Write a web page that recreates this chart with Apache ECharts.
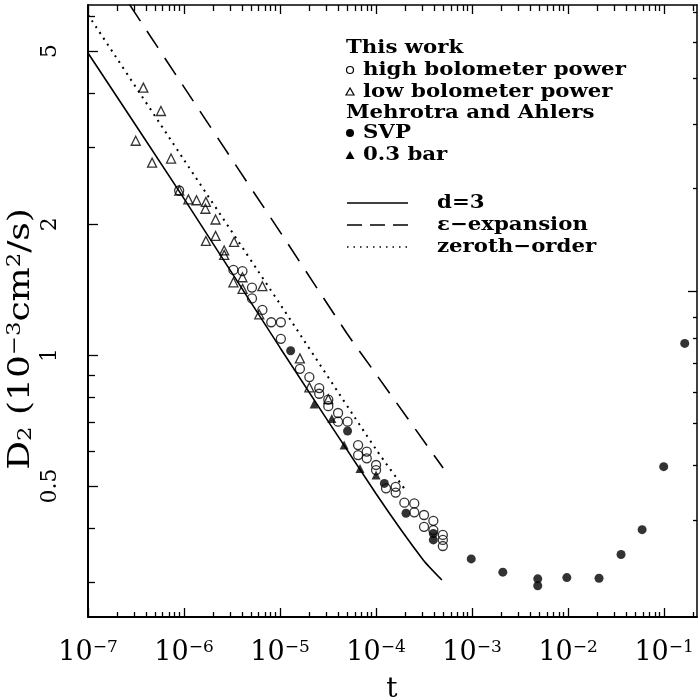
<!DOCTYPE html>
<html>
<head>
<meta charset="utf-8">
<script src="https://cdn.jsdelivr.net/npm/echarts@6/dist/echarts.min.js"></script>
<style>
  html, body { margin: 0; padding: 0; background: #fff; }
  #chart { width: 698px; height: 700px; }
</style>
</head>
<body>
<div id="chart"></div>
<script>
// Axis ranges
const X_MIN = 1e-7, X_MAX = 0.22;
const Y_MIN = 0.25, Y_MAX = 6.38;

// Tick values
const xMajorTicks = [1e-7, 1e-6, 1e-5, 1e-4, 1e-3, 1e-2, 1e-1];
const xMinorMultipliers = [2, 3, 4, 5, 6, 7, 8, 9];
const yLabelTicks = [0.5, 1, 2, 5];
const yMinorTicks = [0.3, 0.4, 0.6, 0.7, 0.8, 0.9, 3, 4, 6];
// Right-hand scale marks, expressed in D2 units of the left scale
const rightMajorTicks = [1.405];
const rightMinorTicks = [6.15, 5.25, 4.33, 3.40, 2.42, 1.225, 1.092, 0.957, 0.823, 0.697, 0.559, 0.418];

// This work, high bolometer power (t, D2 in 1e-3 cm^2/s)
const highPowerT = [8.9e-7, 3.27e-6, 4.06e-6, 5.1e-6, 5.1e-6, 6.55e-6, 8.1e-6, 1.02e-5, 1.02e-5, 1.61e-5,
  2.02e-5, 2.56e-5, 2.56e-5, 3.18e-5, 3.18e-5, 4.02e-5, 4.02e-5, 5.05e-5, 6.5e-5, 6.5e-5,
  8.0e-5, 8.0e-5, 1.0e-4, 1.0e-4, 1.27e-4, 1.6e-4, 1.6e-4, 1.97e-4, 2.5e-4, 2.5e-4,
  3.16e-4, 3.16e-4, 3.95e-4, 3.95e-4, 4.96e-4, 4.96e-4, 4.96e-4];
const highPowerD = [2.39, 1.57, 1.56, 1.43, 1.35, 1.27, 1.19, 1.19, 1.09, 0.93,
  0.89, 0.84, 0.815, 0.79, 0.763, 0.736, 0.703, 0.703, 0.621, 0.589,
  0.600, 0.579, 0.559, 0.544, 0.494, 0.498, 0.483, 0.458, 0.456, 0.435,
  0.429, 0.403, 0.416, 0.396, 0.386, 0.376, 0.364];

// This work, low bolometer power
const lowPowerT = [3.14e-7, 3.77e-7, 4.65e-7, 5.75e-7, 7.33e-7, 8.93e-7, 1.11e-6, 1.35e-6, 1.69e-6, 1.67e-6,
  2.13e-6, 1.69e-6, 2.13e-6, 3.32e-6, 2.62e-6, 2.62e-6, 4.06e-6, 3.27e-6, 4.07e-6, 6.55e-6,
  6.08e-6, 1.61e-5, 2.02e-5, 3.18e-5];
const lowPowerD = [3.11, 4.12, 2.77, 3.64, 2.83, 2.39, 2.28, 2.27, 2.25, 2.17,
  2.05, 1.83, 1.88, 1.82, 1.74, 1.70, 1.51, 1.47, 1.42, 1.44,
  1.24, 0.983, 0.843, 0.792];

// Mehrotra and Ahlers, SVP
const svpT = [1.29e-5, 5.05e-5, 1.22e-4, 2.05e-4, 3.95e-4, 3.95e-4, 9.8e-4, 2.09e-3, 4.83e-3, 4.83e-3,
  9.7e-3, 2.1e-2, 3.56e-2, 5.9e-2, 9.9e-2, 0.164];
const svpD = [1.023, 0.669, 0.507, 0.433, 0.389, 0.376, 0.340, 0.317, 0.306, 0.295,
  0.308, 0.307, 0.348, 0.397, 0.554, 1.064];

// Mehrotra and Ahlers, 0.3 bar
const bar03T = [2.26e-5, 3.46e-5, 4.65e-5, 6.8e-5, 1.0e-4];
const bar03D = [0.772, 0.715, 0.621, 0.549, 0.53];

// Theory curves
const d3T = [1e-7, 1e-6, 1e-5, 1e-4, 3.1e-4, 4.85e-4];
const d3D = [4.95, 2.29, 1.04, 0.48, 0.338, 0.304];
const epsT = [2.7e-7, 1e-6, 1e-5, 5e-5, 1e-4, 5e-4];
const epsD = [6.4, 4.13, 1.92, 1.12, 0.904, 0.55];
const zeroT = [1e-7, 1e-6, 1e-5, 1e-4, 2.1e-4];
const zeroD = [6.06, 2.81, 1.31, 0.607, 0.484];

const lg = Math.log10;
const zip = (a, b) => a.map((v, i) => [v, b[i]]);
const xMinorTicks = [];
xMajorTicks.forEach(p => xMinorMultipliers.forEach(m => xMinorTicks.push(p * m)));

const SERIF = "'DejaVu Serif', 'Liberation Serif', serif";
const INK = '#000';

// Linear axes in log10 space carry the tick marks and labels; the log axes carry the data.
function tickAxis(isX, position, ticks, len, width, withLine, labelCfg) {
  return {
    type: 'value',
    position: position,
    min: isX ? lg(X_MIN) : lg(Y_MIN),
    max: isX ? lg(X_MAX) : lg(Y_MAX),
    axisLine: { show: withLine, onZero: false, lineStyle: { color: INK, width: width } },
    axisTick: { show: true, inside: true, length: len, customValues: ticks.map(lg),
                lineStyle: { color: INK, width: 1.3 } },
    axisLabel: labelCfg || { show: false },
    splitLine: { show: false },
    minorTick: { show: false },
    silent: true
  };
}

const xLabelCfg = {
  show: true,
  customValues: xMajorTicks.map(lg),
  margin: 22,
  formatter: v => '{b|10}{s|\u2212' + (-Math.round(v)) + '}',
  rich: {
    b: { fontFamily: SERIF, fontSize: 27, color: INK },
    s: { fontFamily: SERIF, fontSize: 17, color: INK, verticalAlign: 'top' }
  }
};
const yLabelCfg = {
  show: true,
  customValues: yLabelTicks.map(lg),
  margin: 27,
  rotate: 90,
  formatter: v => String(Math.round(Math.pow(10, v) * 10) / 10),
  fontFamily: SERIF, fontSize: 22, color: INK
};

const chart = echarts.init(document.getElementById('chart'), null, { renderer: 'canvas' });

const option = {
  animation: false,
  backgroundColor: '#fff',
  grid: { left: 88, right: 1, top: 5, bottom: 83, containLabel: false },
  xAxis: [
    { type: 'log', logBase: 10, min: X_MIN, max: X_MAX, show: false },
    tickAxis(true, 'bottom', xMajorTicks, 9, 2, true, xLabelCfg),
    tickAxis(true, 'bottom', xMinorTicks, 5, 2, false),
    tickAxis(true, 'top', xMajorTicks, 9, 1.5, true),
    tickAxis(true, 'top', xMinorTicks, 6, 1.5, false)
  ],
  yAxis: [
    { type: 'log', logBase: 10, min: Y_MIN, max: Y_MAX, show: false },
    tickAxis(false, 'left', yLabelTicks, 10, 2, true, yLabelCfg),
    tickAxis(false, 'left', yMinorTicks, 7, 2, false),
    tickAxis(false, 'right', rightMajorTicks, 9, 1.5, true),
    tickAxis(false, 'right', rightMinorTicks, 4, 1.5, false)
  ],
  series: [
    { name: 'd=3', type: 'line', xAxisIndex: 0, yAxisIndex: 0, data: zip(d3T, d3D),
      showSymbol: false, smooth: 0.2, lineStyle: { color: INK, width: 1.6 }, z: 2 },
    { name: 'ε-expansion', type: 'line', xAxisIndex: 0, yAxisIndex: 0, data: zip(epsT, epsD),
      showSymbol: false, smooth: 0.2, lineStyle: { color: INK, width: 1.6, type: [20, 12] }, z: 2 },
    { name: 'zeroth-order', type: 'line', xAxisIndex: 0, yAxisIndex: 0, data: zip(zeroT, zeroD),
      showSymbol: false, smooth: 0.2, lineStyle: { color: INK, width: 2, type: [2, 5] }, z: 2 },
    { name: 'high bolometer power', type: 'scatter', xAxisIndex: 0, yAxisIndex: 0, data: zip(highPowerT, highPowerD),
      symbol: 'circle', symbolSize: 9,
      itemStyle: { color: 'rgba(0,0,0,0)', borderColor: INK, borderWidth: 1.3 }, z: 3 },
    { name: 'low bolometer power', type: 'scatter', xAxisIndex: 0, yAxisIndex: 0, data: zip(lowPowerT, lowPowerD),
      symbol: 'triangle', symbolSize: 9,
      itemStyle: { color: 'rgba(0,0,0,0)', borderColor: INK, borderWidth: 1.3 }, z: 3 },
    { name: 'SVP', type: 'scatter', xAxisIndex: 0, yAxisIndex: 0, data: zip(svpT, svpD),
      symbol: 'circle', symbolSize: 9, itemStyle: { color: INK }, z: 4 },
    { name: '0.3 bar', type: 'scatter', xAxisIndex: 0, yAxisIndex: 0, data: zip(bar03T, bar03D),
      symbol: 'triangle', symbolSize: 9, itemStyle: { color: INK }, z: 4 }
  ],
  graphic: []
};

// Key (drawn as text and small shapes)
const keyFont = 'bold 19px ' + SERIF;
const keyStretch = 1.12;
const keyX = 346, markX = 350, textX = 363, lineX0 = 347, lineX1 = 408, lineTextX = 437;
const key = [];
function keyText(text, x, y) {
  key.push({ type: 'text', x: x, y: y, z: 10, scaleX: keyStretch,
    style: { text: text, font: keyFont, fill: INK, verticalAlign: 'middle', align: 'left' } });
}
keyText('This work', keyX, 48);
key.push({ type: 'circle', z: 10, shape: { cx: markX, cy: 70, r: 3.5 }, style: { fill: 'none', stroke: INK, lineWidth: 1.2 } });
keyText('high bolometer power', textX, 70);
key.push({ type: 'polygon', z: 10, shape: { points: [[markX, 88], [markX - 4, 95], [markX + 4, 95]] }, style: { fill: 'none', stroke: INK, lineWidth: 1.2 } });
keyText('low bolometer power', textX, 92);
keyText('Mehrotra and Ahlers', keyX, 113);
key.push({ type: 'circle', z: 10, shape: { cx: markX, cy: 133, r: 4 }, style: { fill: INK } });
keyText('SVP', textX, 133);
key.push({ type: 'polygon', z: 10, shape: { points: [[markX, 151], [markX - 4.5, 159], [markX + 4.5, 159]] }, style: { fill: INK } });
keyText('0.3 bar', textX, 155);
key.push({ type: 'line', z: 10, shape: { x1: lineX0, y1: 203, x2: lineX1, y2: 203 }, style: { stroke: INK, lineWidth: 1.6 } });
keyText('d=3', lineTextX, 203);
key.push({ type: 'line', z: 10, shape: { x1: lineX0, y1: 225, x2: lineX1, y2: 225 }, style: { stroke: INK, lineWidth: 1.6, lineDash: [15, 8] } });
keyText('\u03b5\u2212expansion', lineTextX, 225);
key.push({ type: 'line', z: 10, shape: { x1: lineX0, y1: 247, x2: lineX1, y2: 247 }, style: { stroke: INK, lineWidth: 1.5, lineDash: [1.5, 5] } });
keyText('zeroth\u2212order', lineTextX, 247);

// Axis titles
key.push({ type: 'text', z: 10, x: 21, y: 339, rotation: Math.PI / 2, scaleX: 1.2,
  style: {
    text: '{n|D}{sub|2}{n| (10}{sup|\u22123}{n|cm}{sup|2}{n|/s)}',
    align: 'center', verticalAlign: 'middle',
    rich: {
      n: { fontFamily: SERIF, fontSize: 30, fill: INK },
      sub: { fontFamily: SERIF, fontSize: 19, fill: INK, verticalAlign: 'bottom' },
      sup: { fontFamily: SERIF, fontSize: 19, fill: INK, verticalAlign: 'top' }
    }
  } });
key.push({ type: 'text', z: 10, x: 392, y: 690,
  style: { text: 't', font: '28px ' + SERIF, fill: INK, align: 'center', verticalAlign: 'middle' } });

option.graphic = key;
chart.setOption(option);
</script>
</body>
</html>
